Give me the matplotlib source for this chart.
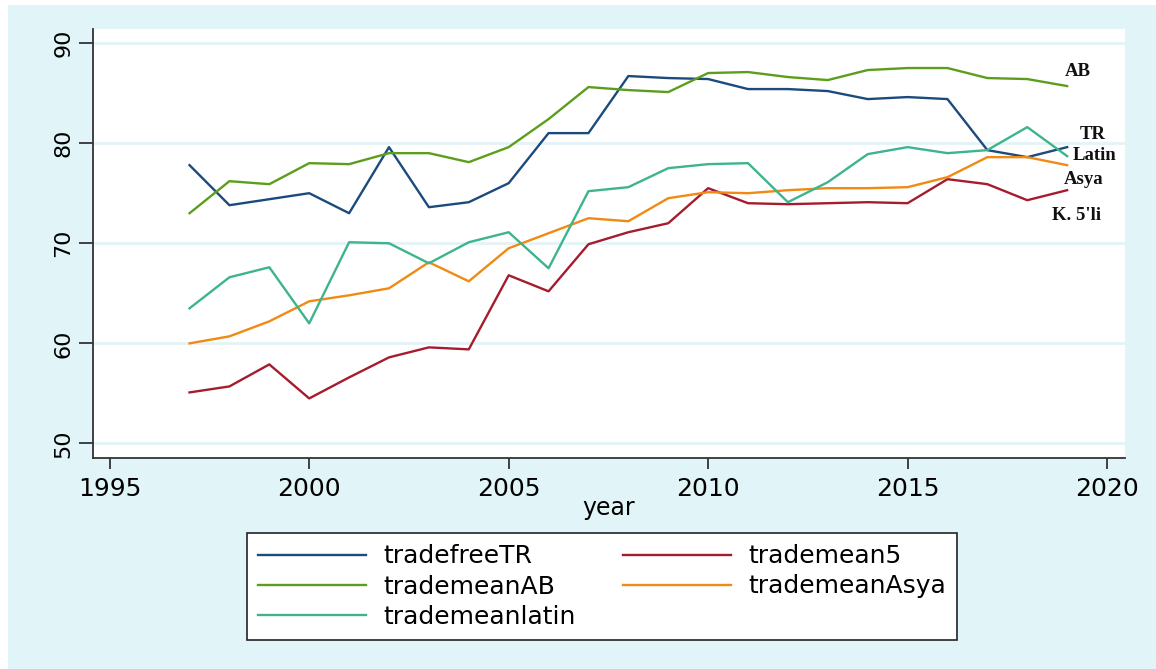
import matplotlib.pyplot as plt
from matplotlib.patches import Rectangle

# years and series
years = list(range(1997, 2020))

tradefreeTR = [77.8, 73.8, 74.4, 75.0, 73.0, 79.6, 73.6, 74.1, 76.0, 81.0, 81.0, 86.7,
               86.5, 86.4, 85.4, 85.4, 85.2, 84.4, 84.6, 84.4, 79.3, 78.6, 79.6]
trademean5 = [55.1, 55.7, 57.9, 54.5, 56.6, 58.6, 59.6, 59.4, 66.8, 65.2, 69.9, 71.1,
              72.0, 75.5, 74.0, 73.9, 74.0, 74.1, 74.0, 76.4, 75.9, 74.3, 75.3]
trademeanAB = [73.0, 76.2, 75.9, 78.0, 77.9, 79.0, 79.0, 78.1, 79.6, 82.4, 85.6, 85.3,
               85.1, 87.0, 87.1, 86.6, 86.3, 87.3, 87.5, 87.5, 86.5, 86.4, 85.7]
trademeanAsya = [60.0, 60.7, 62.2, 64.2, 64.8, 65.5, 68.1, 66.2, 69.5, 71.0, 72.5, 72.2,
                 74.5, 75.1, 75.0, 75.3, 75.5, 75.5, 75.6, 76.6, 78.6, 78.6, 77.8]
trademeanlatin = [63.5, 66.6, 67.6, 62.0, 70.1, 70.0, 68.0, 70.1, 71.1, 67.5, 75.2, 75.6,
                  77.5, 77.9, 78.0, 74.1, 76.1, 78.9, 79.6, 79.0, 79.3, 81.6, 78.7]

labels = ["AB", "TR", "Latin", "Asya", "K. 5'li"]

W, H = 1156, 669
fig = plt.figure(figsize=(W / 100, H / 100), dpi=100, facecolor="white")
fig.patches.append(Rectangle((8 / W, 0), 1 - 8 / W, 1 - 5 / H, transform=fig.transFigure,
                             facecolor="#e1f4f8", edgecolor="none", zorder=-10))

ax = fig.add_axes([93 / W, 1 - 458 / H, (1125 - 93) / W, (458 - 29) / H], zorder=2)
ax.set_facecolor("white")

ax.plot(years, tradefreeTR, color="#1b4a7c", lw=1.7, label="tradefreeTR")
ax.plot(years, trademean5, color="#a51c2c", lw=1.7, label="trademean5")
ax.plot(years, trademeanAB, color="#5c9e1c", lw=1.7, label="trademeanAB")
ax.plot(years, trademeanAsya, color="#f08a12", lw=1.7, label="trademeanAsya")
ax.plot(years, trademeanlatin, color="#3db48c", lw=1.7, label="trademeanlatin")

ax.set_xlim(1994.58, 2020.45)
ax.set_ylim(48.55, 91.4)
ax.set_xticks([1995, 2000, 2005, 2010, 2015, 2020])
ax.set_yticks([50, 60, 70, 80, 90])
ax.grid(axis="y", color="#e3f3f8", lw=2)
ax.set_axisbelow(True)

for s in ["top", "right"]:
    ax.spines[s].set_visible(False)
for s in ["left", "bottom"]:
    ax.spines[s].set_color("#333333")
    ax.spines[s].set_linewidth(1.3)

ax.tick_params(axis="x", labelsize=18, length=8, width=1.3, color="#333333", pad=6)
ax.tick_params(axis="y", labelsize=16, length=10, width=1.3, color="#333333", pad=4)
for t in ax.get_yticklabels():
    t.set_rotation(90)
    t.set_va("center")
ax.set_xlabel("year", fontsize=17, labelpad=-4)

# series labels at the right end
lx = [2018.93, 2019.31, 2019.13, 2018.91, 2018.63]
ly = [87.2, 80.9, 78.8, 76.4, 72.8]
for t, x, y in zip(labels, lx, ly):
    ax.text(x, y, t, fontsize=13.5, fontweight="bold", family="Liberation Serif",
            va="center", ha="left", color="#111111")

# legend filled row by row: TR, 5 / AB, Asya / latin
h, l = ax.get_legend_handles_labels()
order = [0, 2, 4, 1, 3]
leg = fig.legend([h[i] for i in order], [l[i] for i in order], ncol=2,
                 loc="upper left", bbox_to_anchor=(247 / W, 1 - 533 / H),
                 borderaxespad=0, fontsize=18, frameon=True, fancybox=False,
                 framealpha=1, facecolor="white", handlelength=4.3,
                 columnspacing=1.9, labelspacing=0.25, borderpad=0.45,
                 handletextpad=0.7)
leg.get_frame().set_edgecolor("#222222")
leg.get_frame().set_linewidth(1.2)

plt.savefig("out.png", dpi=100)
